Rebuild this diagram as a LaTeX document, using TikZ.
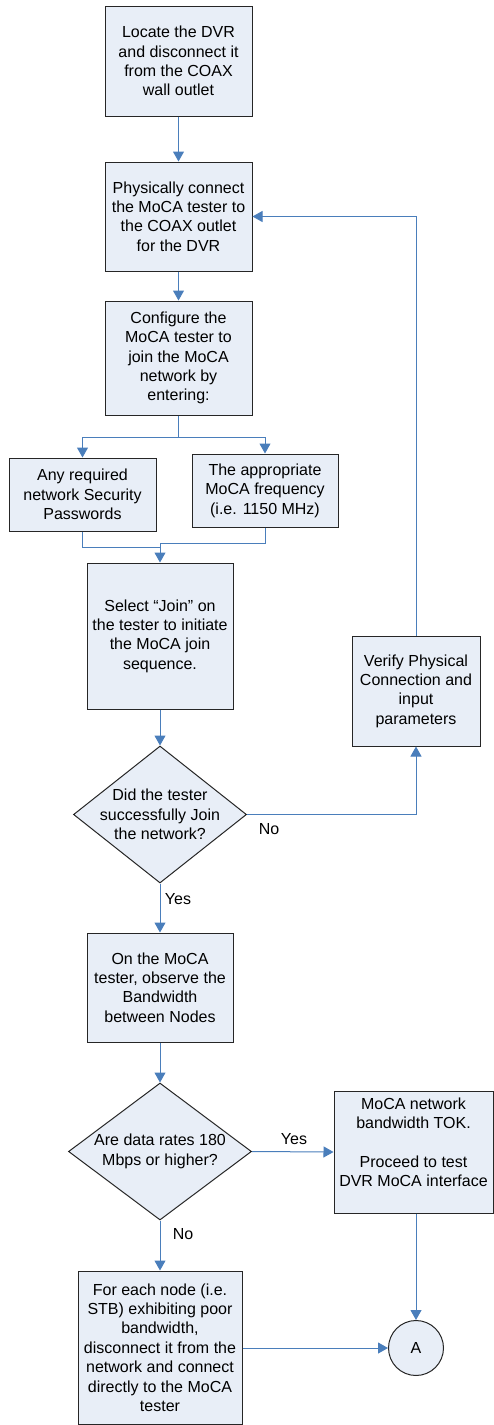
\documentclass[tikz,border=0pt]{standalone}
\usepackage{fontspec}
\setmainfont{Liberation Sans}
\usetikzlibrary{arrows.meta,shapes.geometric,calc}
\definecolor{boxfill}{RGB}{232,238,247}
\definecolor{conn}{RGB}{74,126,187}
\tikzset{
  txt/.style={font={\fontsize{16}{19.4}\selectfont}},
  stepbox/.style={draw=black!85, line width=1pt, fill=boxfill, rectangle, inner sep=0pt, align=center, txt},
  decision/.style={draw=black!85, line width=1pt, fill=boxfill, diamond, inner sep=0pt},
  conbox/.style={draw=black!85, line width=1pt, fill=boxfill, circle, inner sep=0pt, minimum size=55pt, txt},
  arr/.style={draw=conn, line width=1pt, -{Triangle[width=11pt,length=10pt]}},
  ln/.style={draw=conn, line width=1pt},
  lbl/.style={txt, inner sep=0pt}
}
\begin{document}
\begin{tikzpicture}[x=1pt,y=-1pt]
\useasboundingbox (0,0) rectangle (494,1425);
\node[stepbox, minimum width=147pt, minimum height=110pt] (b1) at (178.5,61) {Locate the DVR\\and disconnect it\\from the COAX\\wall outlet};
\node[stepbox, minimum width=147pt, minimum height=109pt] (b2) at (178.5,216.5) {Physically connect\\the MoCA tester to\\the COAX outlet\\for the DVR};
\node[stepbox, minimum width=147pt, minimum height=114pt] (b3) at (178.5,358) {Configure the\\MoCA tester to\\join the MoCA\\network by\\entering:};
\node[stepbox, minimum width=147pt, minimum height=73pt] (sec) at (82.5,494.5) {Any required\\network Security\\Passwords};
\node[stepbox, minimum width=146pt, minimum height=73pt] (freq) at (265,490.5) {The appropriate\\MoCA frequency\\(i.e. 1150 MHz)};
\node[stepbox, minimum width=146pt, minimum height=146pt] (sel) at (160,636) {Select “Join” on\\the tester to initiate\\the MoCA join\\sequence.};
\node[stepbox, minimum width=128pt, minimum height=110pt] (ver) at (416,691) {Verify Physical\\Connection and\\input\\parameters};
\node[decision, minimum width=173pt, minimum height=137pt, label={[lbl, align=center]center:Did the tester\\successfully Join\\the network?}] (d1) at (160,814.5) {};
\node[stepbox, minimum width=146pt, minimum height=109pt] (obs) at (160,987.5) {On the MoCA\\tester, observe the\\Bandwidth\\between Nodes};
\node[decision, minimum width=183pt, minimum height=137pt, label={[lbl, align=center]center:Are data rates 180\\Mbps or higher?}] (d2) at (160,1151.5) {};
\node[stepbox, minimum width=159pt, minimum height=122pt] (tok) at (413.5,1152) {MoCA network\\bandwidth TOK.\\ \\Proceed to test\\DVR MoCA interface\\ };
\node[conbox] (A) at (416,1348) {A};
\node[stepbox, minimum width=164pt, minimum height=153pt] (last) at (160,1347.5) {For each node (i.e.\\STB) exhibiting poor\\bandwidth,\\disconnect it from the\\network and connect\\directly to the MoCA\\tester};

\coordinate (split) at ($(b3.south)+(0,22)$);
\path[arr] (b1) -- (b2);
\path[arr] (b2) -- (b3);
\path[ln] (b3.south) -- (split);
\path[arr] (split) -| (sec.north);
\path[arr] (split) -| (freq.north);
\coordinate (mergeL) at ($(sel.north)+(0,-15)$);
\coordinate (mergeR) at ($(sel.north)+(0,-19)$);
\path[ln] (sec.south) |- (mergeL);
\path[ln] (freq.south) |- (mergeR);
\path[arr] (mergeR) -- (sel.north);
\path[arr] (sel) -- (d1);
\path[arr] (d1.east) -| (ver.south);
\path[arr] (ver.north) |- (b2.east);
\path[arr] (d1.south) -- (obs.north);
\path[arr] (obs) -- (d2);
\path[arr] (d2.east) -- (tok.west);
\path[arr] (tok.south -| A.north) -- (A.north);
\path[arr] (d2.south) -- (last.north);
\path[arr] (last.east |- A.west) -- (A.west);

\node[lbl] (noA) at (269,829) {No};
\node[lbl] (yesA) at (178,899) {Yes};
\node[lbl] (yesB) at (294,1139) {Yes};
\node[lbl] (noB) at (183,1234) {No};
\end{tikzpicture}
\end{document}
